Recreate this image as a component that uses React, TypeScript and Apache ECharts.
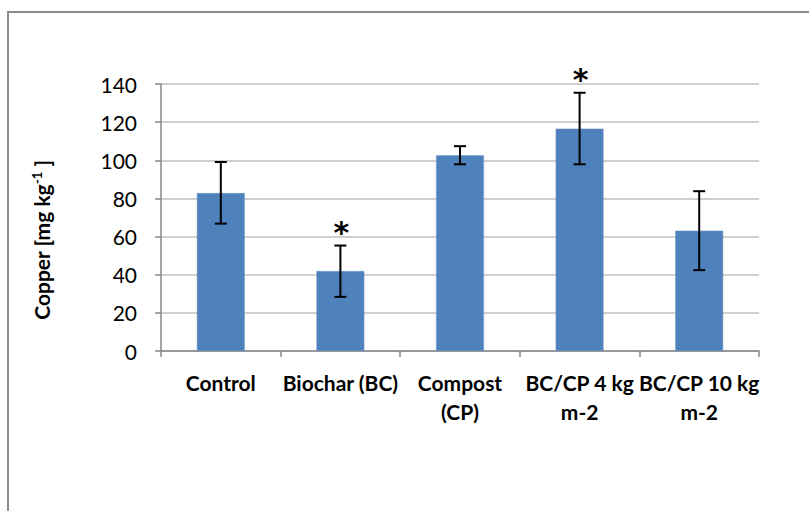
import React, { useEffect, useRef } from "react";
import * as echarts from "echarts";

const categories = ["Control", "Biochar (BC)", "Compost\n(CP)", "BC/CP 4 kg\nm-2", "BC/CP 10 kg\nm-2"];
const means = [82.8, 41.9, 102.6, 116.6, 63.1];
const errUpper = [99.1, 55.3, 107.4, 135.4, 83.8];
const errLower = [66.8, 28.4, 97.9, 97.9, 42.4];
const significant = [false, true, false, true, false];
const yTicks = { min: 0, max: 140, interval: 20 };

export default function App() {
  const ref = useRef<HTMLDivElement>(null);
  useEffect(() => {
    if (!ref.current) return;
    const chart = echarts.init(ref.current, null, { renderer: "svg" });
    const errData = categories.map((_, i) => [i, errLower[i], errUpper[i], significant[i] ? 1 : 0]);
    chart.setOption({
      animation: false,
      backgroundColor: "#ffffff",
      grid: { left: 161, right: 50, top: 84, bottom: 160 },
      graphic: [
        {
          type: "rect",
          shape: { x: 8, y: 12, width: 900, height: 600 },
          style: { fill: "none", stroke: "#8c8c8c", lineWidth: 2 },
          silent: true,
        },
        {
          type: "text",
          x: 41,
          y: 240,
          rotation: Math.PI / 2,
          style: {
            text: "{b|Copper [mg kg}{s|-1}{b| ]}",
            align: "center",
            verticalAlign: "middle",
            rich: {
              b: { fontFamily: "Lato", fontWeight: "bold", fontSize: 21, fill: "#000" },
              s: { fontFamily: "Lato", fontWeight: "bold", fontSize: 13, fill: "#000", verticalAlign: "top", padding: [0, 0, 9, 0] },
            },
          },
        },
      ],
      xAxis: {
        type: "category",
        data: categories,
        axisLine: { lineStyle: { color: "#868686", width: 1.5 } },
        axisTick: { show: true, length: 6, lineStyle: { color: "#868686", width: 1.5 } },
        axisLabel: {
          interval: 0,
          margin: 17,
          fontFamily: "Lato",
          fontWeight: "bold",
          fontSize: 21,
          lineHeight: 29,
          color: "#000",
        },
        splitLine: { show: false },
      },
      yAxis: {
        type: "value",
        min: yTicks.min,
        max: yTicks.max,
        interval: yTicks.interval,
        axisLine: { show: true, lineStyle: { color: "#868686", width: 1.5 } },
        axisTick: { show: true, length: 6, lineStyle: { color: "#868686", width: 1.5 } },
        axisLabel: { margin: 24, fontFamily: "Lato", fontSize: 21, color: "#000" },
        splitLine: { lineStyle: { color: "#bfbfbf", width: 1.5 } },
      },
      series: [
        {
          type: "bar",
          data: means,
          barWidth: "40%",
          itemStyle: { color: "#4f81bd", borderColor: "#6f96c8", borderWidth: 0.5 },
        },
        {
          type: "custom",
          data: errData,
          z: 10,
          renderItem: (params: any, api: any) => {
            const x = api.value(0);
            const lo = api.coord([x, api.value(1)]);
            const hi = api.coord([x, api.value(2)]);
            const hw = 6;
            const style = { stroke: "#000", lineWidth: 2 };
            const children: any[] = [
              { type: "line", shape: { x1: hi[0], y1: hi[1], x2: lo[0], y2: lo[1] }, style },
              { type: "line", shape: { x1: hi[0] - hw, y1: hi[1], x2: hi[0] + hw, y2: hi[1] }, style },
              { type: "line", shape: { x1: lo[0] - hw, y1: lo[1], x2: lo[0] + hw, y2: lo[1] }, style },
            ];
            if (api.value(3) === 1) {
              children.push({
                type: "text",
                x: hi[0] + 1,
                y: hi[1] - 13,
                style: {
                  text: "*",
                  fontFamily: "DejaVu Sans",
                  fontWeight: "bold",
                  fontSize: 30,
                  fill: "#000",
                  align: "center",
                  verticalAlign: "middle",
                },
              });
            }
            return { type: "group", children };
          },
        },
      ],
    });
    return () => chart.dispose();
  }, []);
  return (
    <div
      ref={ref}
      style={{ position: "absolute", left: 0, top: 0, width: 809, height: 511 }}
    />
  );
}
